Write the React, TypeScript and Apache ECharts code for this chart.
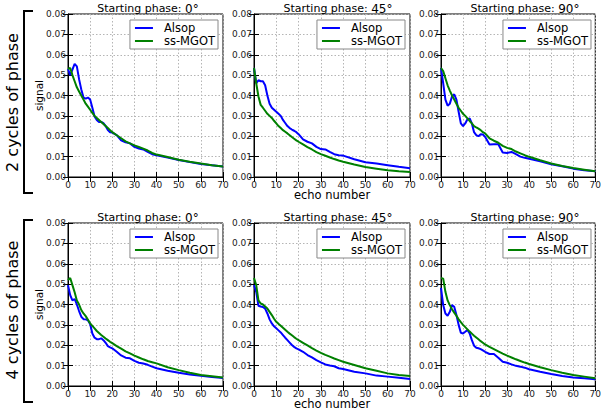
import React, { useEffect, useRef } from "react";
import * as echarts from "echarts";

const ECHOES = [0, 1, 2, 3, 4, 5, 6, 7, 8, 9, 10, 11, 12, 13, 14, 15, 16, 17, 18, 19, 20, 22, 24, 26, 28, 30, 32, 34, 36, 38, 40, 45, 50, 55, 60, 65, 70];

const ROW_LABELS = ["2 cycles of phase", "4 cycles of phase"];
const PHASE_LABELS = ["0°", "45°", "90°"];
const SERIES_NAMES = ["Alsop", "ss-MGOT"];
const X_TICKS = [0, 10, 20, 30, 40, 50, 60, 70];
const Y_TICKS = [0, 0.01, 0.02, 0.03, 0.04, 0.05, 0.06, 0.07, 0.08];

// 2 cycles of phase
const ALSOP_2C_0 = [0.053, 0.050, 0.0527, 0.0555, 0.0543, 0.048, 0.043, 0.039, 0.0385, 0.039, 0.038, 0.034, 0.0297, 0.028, 0.027, 0.027, 0.0264, 0.025, 0.023, 0.022, 0.0218, 0.0206, 0.018, 0.017, 0.0165, 0.0148, 0.014, 0.0135, 0.0123, 0.0112, 0.0107, 0.0095, 0.0083, 0.0073, 0.0064, 0.0058, 0.0052];
const MGOT_2C_0 = [0.053, 0.0535, 0.050, 0.047, 0.044, 0.042, 0.040, 0.038, 0.036, 0.0345, 0.033, 0.0315, 0.030, 0.029, 0.028, 0.027, 0.026, 0.025, 0.024, 0.023, 0.022, 0.0205, 0.019, 0.0175, 0.0165, 0.0155, 0.0147, 0.0139, 0.013, 0.0118, 0.011, 0.0098, 0.0085, 0.0075, 0.0066, 0.0058, 0.0052];
const ALSOP_2C_45 = [0.0535, 0.046, 0.0475, 0.047, 0.047, 0.045, 0.040, 0.036, 0.034, 0.033, 0.032, 0.031, 0.030, 0.028, 0.0265, 0.025, 0.024, 0.0233, 0.0227, 0.022, 0.021, 0.0185, 0.0173, 0.0165, 0.0148, 0.0137, 0.0135, 0.0123, 0.0112, 0.0107, 0.0105, 0.0087, 0.0072, 0.0066, 0.0058, 0.005, 0.0043];
const MGOT_2C_45 = [0.0535, 0.046, 0.0395, 0.0354, 0.034, 0.0325, 0.031, 0.030, 0.029, 0.0276, 0.0263, 0.025, 0.024, 0.023, 0.0222, 0.0214, 0.0205, 0.0196, 0.0188, 0.018, 0.0173, 0.016, 0.0147, 0.0135, 0.0122, 0.0112, 0.0104, 0.0096, 0.0088, 0.0081, 0.0075, 0.0061, 0.0049, 0.0041, 0.0033, 0.0028, 0.0025];
const ALSOP_2C_90 = [0.0535, 0.046, 0.038, 0.035, 0.036, 0.0395, 0.0406, 0.038, 0.032, 0.0263, 0.025, 0.0263, 0.0283, 0.0288, 0.0263, 0.022, 0.0206, 0.020, 0.021, 0.0209, 0.0197, 0.016, 0.0161, 0.0161, 0.012, 0.0118, 0.0123, 0.0112, 0.010, 0.0094, 0.009, 0.0077, 0.0063, 0.0053, 0.0041, 0.0033, 0.0028];
const MGOT_2C_90 = [0.0535, 0.052, 0.0485, 0.045, 0.0424, 0.040, 0.038, 0.036, 0.034, 0.0325, 0.031, 0.030, 0.0288, 0.0275, 0.0263, 0.025, 0.0243, 0.0237, 0.023, 0.022, 0.0214, 0.019, 0.0178, 0.0168, 0.0153, 0.0143, 0.0137, 0.0125, 0.0116, 0.0107, 0.0099, 0.0082, 0.0066, 0.0054, 0.0044, 0.0036, 0.0028];

// 4 cycles of phase
const ALSOP_4C_0 = [0.0495, 0.0446, 0.042, 0.0427, 0.040, 0.0368, 0.034, 0.0328, 0.0327, 0.0323, 0.0304, 0.0258, 0.0237, 0.023, 0.023, 0.0234, 0.0225, 0.0212, 0.0196, 0.019, 0.0185, 0.0168, 0.015, 0.0139, 0.0136, 0.0123, 0.0114, 0.011, 0.0104, 0.0095, 0.0087, 0.0075, 0.0065, 0.0057, 0.005, 0.0044, 0.0039];
const MGOT_4C_0 = [0.052, 0.053, 0.0495, 0.046, 0.042, 0.040, 0.0373, 0.0356, 0.0343, 0.0325, 0.0307, 0.0295, 0.0283, 0.027, 0.026, 0.025, 0.0242, 0.0233, 0.0225, 0.0217, 0.021, 0.0196, 0.0183, 0.017, 0.016, 0.0149, 0.014, 0.0131, 0.0123, 0.0117, 0.0111, 0.0092, 0.0078, 0.0065, 0.0054, 0.0048, 0.0042];
const ALSOP_4C_45 = [0.0495, 0.0462, 0.0394, 0.039, 0.0388, 0.038, 0.0356, 0.0327, 0.0307, 0.0293, 0.0283, 0.0273, 0.0263, 0.025, 0.0237, 0.0225, 0.0213, 0.0201, 0.0192, 0.0185, 0.018, 0.0168, 0.0152, 0.014, 0.0127, 0.0116, 0.0106, 0.0101, 0.0097, 0.0087, 0.0083, 0.007, 0.0062, 0.0051, 0.0046, 0.0041, 0.0034];
const MGOT_4C_45 = [0.053, 0.0495, 0.042, 0.0405, 0.040, 0.039, 0.038, 0.0364, 0.0348, 0.033, 0.0315, 0.0305, 0.0296, 0.0286, 0.0276, 0.0266, 0.0257, 0.0249, 0.024, 0.0232, 0.0225, 0.0212, 0.0199, 0.0186, 0.0174, 0.0163, 0.0153, 0.0144, 0.0135, 0.0127, 0.0119, 0.0103, 0.0087, 0.0075, 0.0062, 0.0054, 0.0049];
const ALSOP_4C_90 = [0.0482, 0.0397, 0.0356, 0.0345, 0.0364, 0.0397, 0.0389, 0.0348, 0.030, 0.0261, 0.0258, 0.0266, 0.0275, 0.0258, 0.0225, 0.0198, 0.0188, 0.0185, 0.0181, 0.0175, 0.0168, 0.0157, 0.0157, 0.0139, 0.0119, 0.0114, 0.0106, 0.0099, 0.0095, 0.009, 0.0082, 0.007, 0.0059, 0.0049, 0.0042, 0.0038, 0.0033];
const MGOT_4C_90 = [0.053, 0.0527, 0.0462, 0.042, 0.0397, 0.0377, 0.036, 0.0345, 0.0327, 0.0313, 0.030, 0.0289, 0.0278, 0.0267, 0.0257, 0.0247, 0.0238, 0.0229, 0.022, 0.0212, 0.0204, 0.0192, 0.0181, 0.017, 0.0159, 0.0149, 0.014, 0.0131, 0.0123, 0.0115, 0.0108, 0.0092, 0.0078, 0.0065, 0.0054, 0.0046, 0.0038];

const PANEL_DATA = [
  [[ALSOP_2C_0, MGOT_2C_0], [ALSOP_2C_45, MGOT_2C_45], [ALSOP_2C_90, MGOT_2C_90]],
  [[ALSOP_4C_0, MGOT_4C_0], [ALSOP_4C_45, MGOT_4C_45], [ALSOP_4C_90, MGOT_4C_90]],
];

const FONT = "DejaVu Sans";
const COLORS = ["#0000ff", "#008000"];
const COL_LEFT = [68, 254, 441];
const COL_WIDTH = [155, 156, 155];
const ROW_TOP = [14, 223];
const PANEL_H = 163;
const TITLE_CX = [148, 338, 525];

export default function App() {
  const ref = useRef<HTMLDivElement>(null);

  useEffect(() => {
    if (!ref.current) return;
    const chart = echarts.init(ref.current, undefined, { renderer: "svg" });

    const grid: any[] = [];
    const xAxis: any[] = [];
    const yAxis: any[] = [];
    const series: any[] = [];
    const legend: any[] = [];
    const graphic: any[] = [];

    const xMin = X_TICKS[0];
    const xMax = X_TICKS[X_TICKS.length - 1];
    const xInt = X_TICKS[1] - X_TICKS[0];
    const yMin = Y_TICKS[0];
    const yMax = Y_TICKS[Y_TICKS.length - 1];
    const yInt = Y_TICKS[1] - Y_TICKS[0];

    for (let r = 0; r < 2; r++) {
      for (let c = 0; c < 3; c++) {
        const g = grid.length;
        grid.push({
          left: COL_LEFT[c],
          top: ROW_TOP[r],
          width: COL_WIDTH[c],
          height: PANEL_H,
          show: true,
          borderColor: "#000",
          borderWidth: 1,
          backgroundColor: "transparent",
        });
        const tick = { show: true, inside: true, length: 5, lineStyle: { color: "#000", width: 1 } };
        xAxis.push({
          type: "value",
          gridIndex: g,
          position: "bottom",
          min: xMin,
          max: xMax,
          interval: xInt,
          axisLine: { show: true, lineStyle: { color: "#000", width: 1 } },
          axisTick: tick,
          axisLabel: { fontSize: 9, color: "#222", fontFamily: FONT, margin: 3 },
          splitLine: { show: true, lineStyle: { color: "#b5b5b5", type: [1.5, 2], width: 1 } },
        });
        xAxis.push({
          type: "value",
          gridIndex: g,
          position: "top",
          min: xMin,
          max: xMax,
          interval: xInt,
          axisLine: { show: false },
          axisTick: tick,
          axisLabel: { show: false },
          splitLine: { show: false },
        });
        yAxis.push({
          type: "value",
          gridIndex: g,
          position: "left",
          min: yMin,
          max: yMax,
          interval: yInt,
          axisLine: { show: true, lineStyle: { color: "#000", width: 1 } },
          axisTick: tick,
          axisLabel: {
            fontSize: 9,
            color: "#222",
            fontFamily: FONT,
            margin: 2,
            formatter: (v: number) => v.toFixed(2),
          },
          splitLine: { show: true, lineStyle: { color: "#b5b5b5", type: [1.5, 2], width: 1 } },
        });
        yAxis.push({
          type: "value",
          gridIndex: g,
          position: "right",
          min: yMin,
          max: yMax,
          interval: yInt,
          axisLine: { show: false },
          axisTick: tick,
          axisLabel: { show: false },
          splitLine: { show: false },
        });

        PANEL_DATA[r][c].forEach((vals, k) => {
          series.push({
            type: "line",
            name: SERIES_NAMES[k],
            xAxisIndex: 2 * g,
            yAxisIndex: 2 * g,
            data: ECHOES.map((e, i) => [e, vals[i]]),
            symbol: "none",
            showSymbol: false,
            lineStyle: { color: COLORS[k], width: 2 },
            itemStyle: { color: COLORS[k] },
            z: 3 + k,
          });
        });

        const panelRight = COL_LEFT[c] + COL_WIDTH[c];
        legend.push({
          orient: "vertical",
          right: 604 - (panelRight - 5),
          top: ROW_TOP[r] + 6,
          data: SERIES_NAMES,
          icon: "rect",
          itemWidth: 18,
          itemHeight: 2,
          itemGap: 1,
          padding: [2, 3, 2, 5],
          borderColor: "#888",
          borderWidth: 1,
          backgroundColor: "#fff",
          selectedMode: false,
          formatter: "{t|{name}}",
          textStyle: {
            fontSize: 11.5,
            color: "#000",
            fontFamily: FONT,
            rich: {
              t: {
                fontSize: 11.5,
                fontFamily: FONT,
                color: "#000",
                lineHeight: 13,
                padding: [0, 0, 0, 6],
              },
            },
          },
        });

        graphic.push({
          type: "text",
          x: TITLE_CX[c],
          y: r === 0 ? 8.5 : 217.5,
          style: {
            text: "{a|Starting phase: }{b|" + PHASE_LABELS[c] + "}",
            rich: {
              a: { fontSize: 11, fontFamily: FONT, fill: "#000" },
              b: { fontSize: 12, fontFamily: FONT, fill: "#000" },
            },
            textAlign: "center",
            textVerticalAlign: "middle",
            align: "center",
            verticalAlign: "middle",
          },
        });
      }

      // signal label on left column
      graphic.push({
        type: "text",
        x: 39,
        y: ROW_TOP[r] + PANEL_H / 2,
        rotation: Math.PI / 2,
        style: {
          text: "signal",
          fontSize: 10.5,
          fontFamily: FONT,
          fill: "#000",
          textAlign: "center",
          textVerticalAlign: "middle",
          align: "center",
          verticalAlign: "middle",
        },
      });
      // echo number label under middle column
      graphic.push({
        type: "text",
        x: COL_LEFT[1] + COL_WIDTH[1] / 2,
        y: ROW_TOP[r] + PANEL_H + 18,
        style: {
          text: "echo number",
          fontSize: 11.5,
          fontFamily: FONT,
          fill: "#000",
          textAlign: "center",
          textVerticalAlign: "middle",
          align: "center",
          verticalAlign: "middle",
        },
      });
      // row label
      graphic.push({
        type: "text",
        x: 12,
        y: r === 0 ? 102.5 : 310,
        rotation: Math.PI / 2,
        style: {
          text: ROW_LABELS[r],
          fontSize: 16,
          fontFamily: FONT,
          fill: "#000",
          textAlign: "center",
          textVerticalAlign: "middle",
          align: "center",
          verticalAlign: "middle",
        },
      });
      // bracket
      const y0 = r === 0 ? 11 : 220;
      const y1 = r === 0 ? 193 : 402;
      graphic.push({
        type: "polyline",
        shape: { points: [[33, y0], [24, y0], [24, y1], [33, y1]] },
        style: { stroke: "#000", lineWidth: 2, fill: "none" },
      });
    }

    chart.setOption({
      animation: false,
      backgroundColor: "#fff",
      grid,
      xAxis,
      yAxis,
      series,
      legend,
      graphic,
    });

    return () => chart.dispose();
  }, []);

  return (
    <div
      ref={ref}
      style={{ position: "absolute", left: 0, top: 0, width: 604, height: 412 }}
    />
  );
}
